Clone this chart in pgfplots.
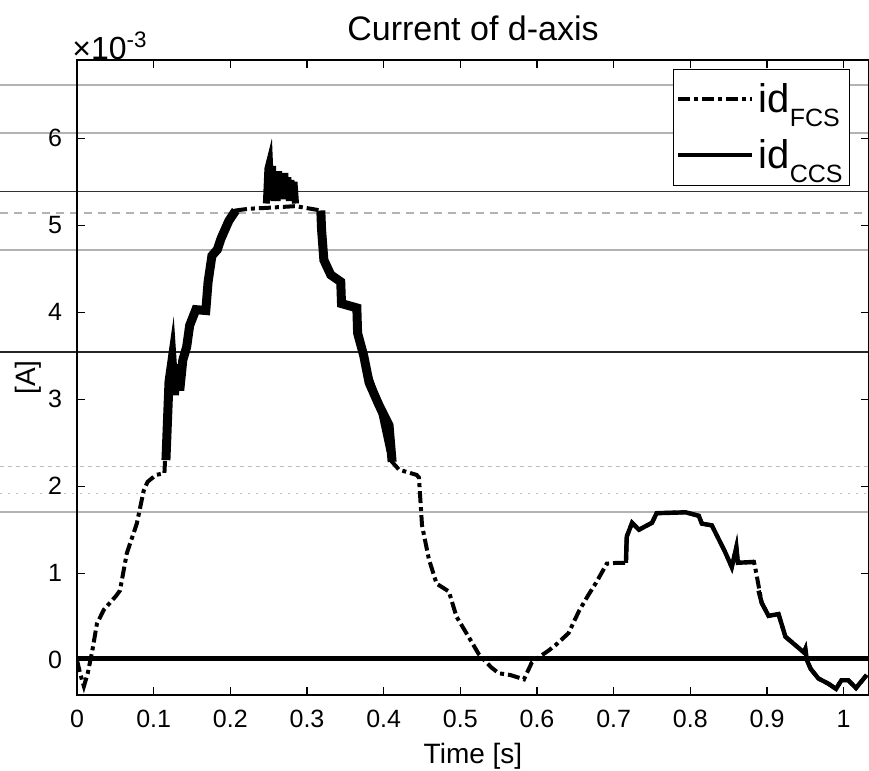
\documentclass[border=0pt]{standalone}
\usepackage{pgfplots}
\pgfplotsset{compat=1.18}
\usepackage{fontspec}
\setmainfont{Liberation Sans}
\begin{document}
\begin{tikzpicture}
% faint scan lines of the reference
\begin{scope}
\draw[gray!60, line width=0.7pt] (-38.5pt,305pt) -- (396pt,305pt);
\draw[gray!60, line width=0.7pt] (-38.5pt,281pt) -- (396pt,281pt);
\draw[black!80, line width=0.5pt] (-38.5pt,251.5pt) -- (396pt,251.5pt);
\draw[gray!60, line width=0.6pt, dash pattern=on 4pt off 3pt] (-38.5pt,241pt) -- (396pt,241pt);
\draw[gray!60, line width=0.8pt] (-38.5pt,222.5pt) -- (396pt,222.5pt);
\draw[black!85, line width=0.8pt] (-38.5pt,171.5pt) -- (396pt,171.5pt);
\draw[gray!50, line width=0.5pt, dash pattern=on 2pt off 2pt] (-38.5pt,114pt) -- (396pt,114pt);
\draw[gray!50, line width=0.5pt, dash pattern=on 1pt off 3pt] (-38.5pt,100.5pt) -- (396pt,100.5pt);
\draw[gray!60, line width=0.6pt] (-38.5pt,91.5pt) -- (396pt,91.5pt);
\end{scope}
\begin{axis}[
  name=ax,
  at={(0,0)}, anchor=south west,
  scale only axis, width=396pt, height=317.5pt,
  xmin=0, xmax=1.033, ymin=-0.4, ymax=6.9,
  xtick={0,0.1,0.2,0.3,0.4,0.5,0.6,0.7,0.8,0.9,1},
  xticklabels={0,0.1,0.2,0.3,0.4,0.5,0.6,0.7,0.8,0.9,1},
  ytick={0,1,2,3,4,5,6},
  yticklabels={0,1,2,3,4,5,6},
  tick align=inside, major tick length=4pt,
  tick style={line width=0.7pt, black},
  /pgf/number format/assume math mode=true,
  tick label style={font=\fontsize{12.5}{14}\selectfont},
  xticklabel style={yshift=-4pt},
  yticklabel style={xshift=-4pt},
  axis line style={line width=0.8pt},
  title={Current of d-axis},
  title style={font=\fontsize{17}{19}\selectfont, at={(axis description cs:0.5,1.0315)}, anchor=center, yshift=0pt},
  xlabel={Time [s]},
  xlabel style={font=\fontsize{14}{16}\selectfont, at={(axis description cs:0.5,-0.096)}, anchor=center},
  ylabel={[A]},
  ylabel style={font=\fontsize{14}{16}\selectfont, at={(axis description cs:-0.0619,0.5)}, anchor=center},
  legend style={at={(0.976,0.986)}, anchor=north east, draw=black, fill=white,
    inner xsep=1.5pt, inner ysep=5pt, row sep=8pt, cells={anchor=west}},
  legend image code/.code={\draw[#1] (0pt,0pt) -- (37pt,0pt);},
]
% FCS (dash-dot)
\addplot[black, line width=2pt, dash pattern=on 6pt off 2pt on 2pt off 2pt] coordinates {
(0,0.0)(0.004,-0.15)(0.009,-0.30)(0.014,-0.15)(0.02,0.11)(0.026,0.42)(0.035,0.58)
(0.051,0.74)(0.056,0.80)(0.065,1.23)(0.078,1.57)(0.087,1.95)(0.092,2.05)(0.103,2.13)
(0.114,2.15)(0.116,2.5)(0.12,3.3)(0.133,3.35)(0.147,3.85)(0.155,4.03)(0.168,4.02)
(0.171,4.35)(0.176,4.65)(0.188,4.85)(0.198,5.05)(0.207,5.17)(0.224,5.19)(0.247,5.2)
(0.285,5.22)(0.318,5.17)(0.319,4.95)(0.322,4.6)(0.331,4.43)(0.344,4.35)(0.345,4.1)
(0.365,4.05)(0.366,3.76)(0.374,3.5)(0.381,3.19)(0.394,2.93)(0.407,2.70)(0.411,2.28)
(0.42,2.19)(0.443,2.13)(0.446,2.1)(0.45,1.55)(0.459,1.16)(0.469,0.88)(0.485,0.79)
(0.495,0.5)(0.51,0.28)(0.524,0.07)(0.54,-0.08)(0.55,-0.15)(0.565,-0.17)(0.583,-0.22)
(0.593,-0.03)(0.605,0.05)(0.615,0.11)(0.625,0.18)(0.641,0.31)(0.655,0.57)(0.667,0.75)
(0.677,0.89)(0.691,1.11)(0.705,1.12)(0.716,1.12)(0.717,1.42)(0.724,1.58)(0.733,1.5)
(0.75,1.58)(0.756,1.69)(0.794,1.70)(0.811,1.66)(0.815,1.57)(0.828,1.55)(0.845,1.25)
(0.854,1.07)(0.86,1.30)(0.862,1.12)(0.883,1.13)(0.886,1.0)(0.893,0.66)(0.902,0.51)
(0.915,0.53)(0.924,0.27)(0.932,0.21)(0.948,0.09)(0.95,0.13)(0.952,0.0)(0.957,-0.1)
(0.967,-0.21)(0.98,-0.27)(0.99,-0.33)(0.997,-0.23)(1.006,-0.23)(1.016,-0.32)(1.03,-0.17)
};
\addlegendentry{\fontsize{20}{22}\selectfont id\raisebox{-7pt}{\fontsize{12.5}{14}\selectfont FCS}}
% CCS (solid)
\addplot[black, line width=2.2pt] coordinates {(0,0.02)(0.2,0.02)(0.4,0.02)(0.6,0.02)(0.8,0.02)(1.033,0.02)};
\addlegendentry{\fontsize{20}{22}\selectfont id\raisebox{-7pt}{\fontsize{12.5}{14}\selectfont CCS}}
% dense switching ripple of FCS
\addplot[black, line width=4.5pt, forget plot] coordinates {
(0.116,2.3)(0.12,3.2)(0.124,3.45)(0.127,3.05)(0.131,3.4)(0.134,3.1)(0.138,3.45)(0.143,3.6)
(0.147,3.85)(0.155,4.03)(0.168,4.02)(0.171,4.35)(0.176,4.65)(0.183,4.72)(0.188,4.85)
(0.193,4.95)(0.198,5.05)(0.207,5.17)};
\addplot[black, line width=3.5pt, forget plot] coordinates {
(0.247,5.25)(0.249,5.65)(0.251,5.72)(0.253,5.3)(0.255,5.68)(0.257,5.28)(0.259,5.6)(0.261,5.28)
(0.263,5.62)(0.265,5.3)(0.267,5.6)(0.269,5.3)(0.271,5.6)(0.273,5.3)(0.275,5.55)(0.277,5.28)
(0.279,5.52)(0.281,5.28)(0.283,5.5)(0.285,5.25)};
\addplot[black, line width=4.5pt, forget plot] coordinates {
(0.318,5.17)(0.319,4.95)(0.322,4.6)(0.331,4.43)(0.344,4.35)(0.345,4.1)(0.365,4.05)
(0.366,3.76)(0.374,3.5)(0.381,3.19)(0.394,2.93)(0.407,2.70)(0.411,2.28)};
\addplot[black, line width=4pt, forget plot] coordinates {
(0.378,3.3)(0.388,3.05)(0.398,2.85)(0.409,2.4)};
\addplot[black, line width=2.2pt, forget plot] coordinates {
(0.716,1.12)(0.717,1.42)(0.724,1.58)(0.733,1.5)(0.75,1.58)(0.756,1.69)(0.794,1.70)
(0.811,1.66)(0.815,1.57)(0.828,1.55)(0.845,1.25)(0.854,1.07)(0.86,1.30)(0.862,1.12)(0.883,1.13)};
\addplot[black, line width=2.2pt, forget plot] coordinates {
(0.889,0.8)(0.893,0.66)(0.902,0.51)(0.915,0.53)(0.924,0.27)(0.932,0.21)(0.948,0.09)(0.95,0.13)
(0.952,0.0)(0.957,-0.1)(0.967,-0.21)(0.98,-0.27)(0.99,-0.33)(0.997,-0.23)(1.006,-0.23)(1.016,-0.32)(1.03,-0.17)};
\end{axis}
\node[anchor=west, inner sep=0pt, xshift=-2.5pt, yshift=7pt] at (ax.north west) {\fontsize{16}{18}\selectfont ×10\textsuperscript{-3}};
\pgfresetboundingbox
\path[use as bounding box] (-38.5pt,-38pt) rectangle (396pt,347.5pt);
\end{tikzpicture}
\end{document}
